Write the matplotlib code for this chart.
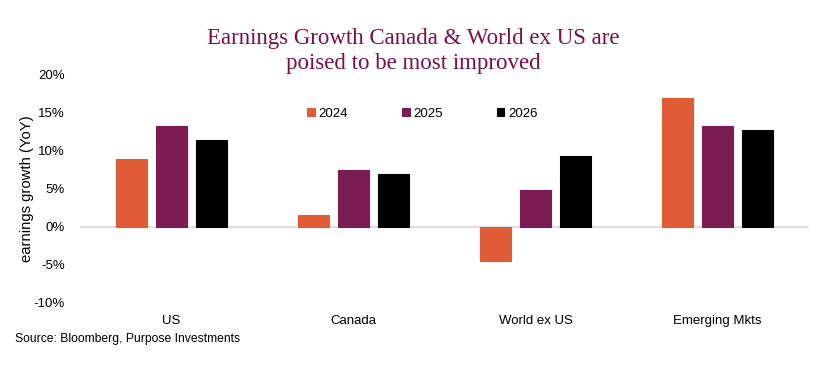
import numpy as np
import matplotlib
matplotlib.use('Agg')
import matplotlib.pyplot as plt
from matplotlib.ticker import FuncFormatter

plt.rcParams['font.family'] = ['Liberation Sans', 'DejaVu Sans']

# data (YoY earnings growth, %)
regions = ['US', 'Canada', 'World ex US', 'Emerging Mkts']
years = ['2024', '2025', '2026']
g2024 = [8.9, 1.5, -4.5, 17.0]
g2025 = [13.2, 7.4, 4.8, 13.2]
g2026 = [11.4, 7.0, 9.3, 12.7]

colors = ['#E05C37', '#7B1C52', '#000000']
title_color = '#7B1048'

fig = plt.figure(figsize=(8.27, 3.82), dpi=100)
ax = fig.add_axes([0.097, 0.208, 0.881, 0.596])

x = np.arange(len(regions))
width = 0.17
step = 0.22
for i, (vals, yr) in enumerate(zip([g2024, g2025, g2026], years)):
    ax.bar(x + (i - 1) * step, vals, width, color=colors[i], label=yr,
           edgecolor=colors[i], linewidth=0.8)

ax.set_xlim(-0.5, len(regions) - 0.5)
ax.set_ylim(-10, 20)
ax.set_yticks(np.arange(-10, 21, 5))
ax.yaxis.set_major_formatter(FuncFormatter(lambda v, p: f'{int(v)}%'))
ax.set_xticks(x)
ax.set_xticklabels(regions)
ax.tick_params(axis='both', length=0, labelsize=9.5)
ax.tick_params(axis='y', pad=11)
ax.tick_params(axis='x', pad=9)

for s in ax.spines.values():
    s.set_visible(False)
ax.axhline(0, color='#D9D9D9', linewidth=1.2, zorder=0)

ax.set_ylabel('earnings growth (YoY)', fontsize=10.7, labelpad=0)

leg = ax.legend(loc='center', bbox_to_anchor=(0.47, 0.828), ncol=3, frameon=False,
                fontsize=9.5, handlelength=0.55, handleheight=0.55,
                handletextpad=0.3, columnspacing=4.1)

fig.text(0.5, 0.866, 'Earnings Growth Canada & World ex US are\npoised to be most improved',
         ha='center', va='center', fontsize=16.5, color=title_color,
         family=['Liberation Serif', 'DejaVu Serif'], linespacing=1.25)

fig.text(0.018, 0.112, 'Source: Bloomberg, Purpose Investments', fontsize=8.7,
         ha='left', va='center')

fig.savefig('out.png', dpi=100)
